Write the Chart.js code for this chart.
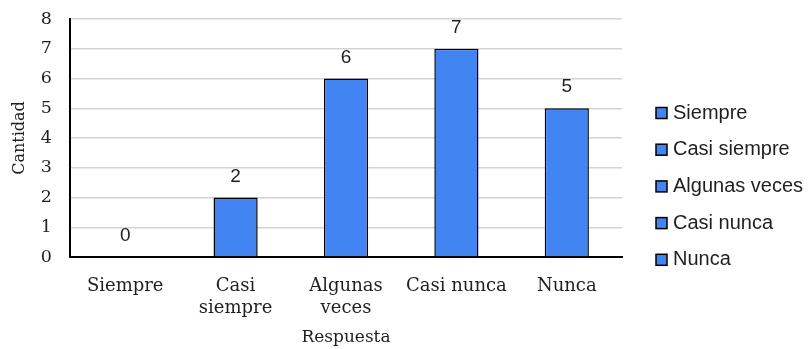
<!DOCTYPE html>
<html>
<head>
<meta charset="utf-8">
<script src="https://cdn.jsdelivr.net/npm/chart.js@4.4.1/dist/chart.umd.min.js"></script>
<style>
  html, body { margin: 0; padding: 0; background: #ffffff; }
  #wrap { width: 812px; height: 349px; }
</style>
</head>
<body>
<div id="wrap"><canvas id="c" width="812" height="349"></canvas></div>
<script>
// Respuestas de la encuesta
const categories = ['Siempre', 'Casi siempre', 'Algunas veces', 'Casi nunca', 'Nunca'];
const xTickLabels = [['Siempre'], ['Casi', 'siempre'], ['Algunas', 'veces'], ['Casi nunca'], ['Nunca']];
const cantidad = [0, 2, 6, 7, 5];
const yTicks = [0, 1, 2, 3, 4, 5, 6, 7, 8];

const barBlue = '#4285f2';
const textColor = '#1f1f1f';

// Etiquetas de valor sobre cada barra
const valueLabels = {
  id: 'valueLabels',
  afterDatasetsDraw(chart) {
    const ctx = chart.ctx;
    const meta = chart.getDatasetMeta(0);
    ctx.save();
    ctx.font = '19px "Liberation Sans", Arial, sans-serif';
    ctx.fillStyle = textColor;
    ctx.textAlign = 'center';
    ctx.textBaseline = 'middle';
    meta.data.forEach((bar, i) => {
      ctx.fillText(String(cantidad[i]), bar.x, bar.y - 21);
    });
    ctx.restore();
  }
};

// Leyenda en columna a la derecha del área del gráfico
const sideLegend = {
  id: 'sideLegend',
  afterDraw(chart) {
    const ctx = chart.ctx;
    const area = chart.chartArea;
    const boxX = area.right + 34;
    const firstY = 113;
    const step = 36.7;
    const box = 11;
    ctx.save();
    ctx.font = '20px "Liberation Sans", Arial, sans-serif';
    ctx.textAlign = 'left';
    ctx.textBaseline = 'middle';
    categories.forEach((name, i) => {
      const cy = firstY + i * step;
      ctx.fillStyle = barBlue;
      ctx.fillRect(boxX, cy - box / 2, box, box);
      ctx.strokeStyle = '#000000';
      ctx.lineWidth = 1.5;
      ctx.strokeRect(boxX, cy - box / 2, box, box);
      ctx.fillStyle = textColor;
      ctx.fillText(name, boxX + box + 6, cy);
    });
    ctx.restore();
  }
};

new Chart(document.getElementById('c'), {
  type: 'bar',
  data: {
    labels: categories,
    datasets: [{
      label: 'Cantidad',
      data: cantidad,
      backgroundColor: barBlue,
      borderColor: '#000000',
      borderWidth: 1.5,
      categoryPercentage: 1.0,
      barPercentage: 0.4
    }]
  },
  options: {
    responsive: false,
    animation: false,
    events: [],
    layout: { padding: { top: 19, left: 0, right: 190, bottom: 0 } },
    plugins: {
      tooltip: { enabled: false },
      legend: { display: false }
    },
    scales: {
      x: {
        grid: { display: false, drawTicks: false },
        border: { display: true, color: '#000000', width: 2 },
        ticks: {
          color: textColor,
          font: { family: '"DejaVu Serif", serif', size: 18, lineHeight: 1.2 },
          padding: 19,
          maxRotation: 0,
          autoSkip: false,
          callback: (v, i) => xTickLabels[i]
        },
        title: {
          display: true,
          text: 'Respuesta',
          color: textColor,
          font: { family: '"DejaVu Serif", serif', size: 17 },
          padding: { top: 0, bottom: 1 }
        },
        afterFit(scale) {
          scale.height = 92;
          scale.paddingLeft = 0;
          scale.paddingRight = 0;
        }
      },
      y: {
        min: 0,
        max: 8,
        afterBuildTicks(scale) {
          scale.ticks = yTicks.map(v => ({ value: v }));
        },
        grid: { color: '#d3d3d3', lineWidth: 1.5, drawTicks: false },
        border: { display: true, color: '#000000', width: 2 },
        ticks: {
          color: textColor,
          font: { family: '"DejaVu Serif", serif', size: 17.5 },
          padding: 18
        },
        title: {
          display: true,
          text: 'Cantidad',
          color: textColor,
          font: { family: '"DejaVu Serif", serif', size: 16 },
          padding: { top: 10.4, bottom: 0 }
        },
        afterFit(scale) {
          scale.width = 70;
          scale.paddingTop = 0;
          scale.paddingBottom = 0;
        }
      }
    }
  },
  plugins: [valueLabels, sideLegend]
});
</script>
</body>
</html>
